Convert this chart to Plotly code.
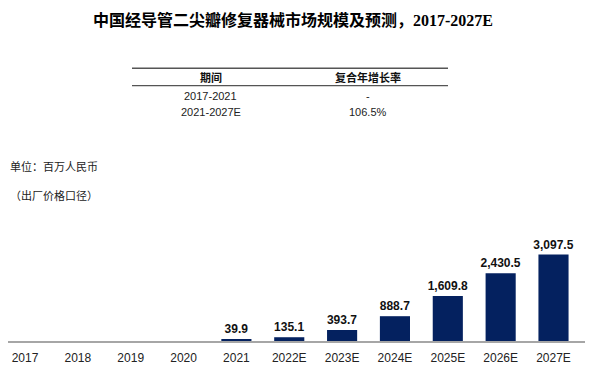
import plotly.graph_objects as go

categories = ["2017", "2018", "2019", "2020", "2021", "2022E", "2023E", "2024E", "2025E", "2026E", "2027E"]
values = [None, None, None, None, 39.9, 135.1, 393.7, 888.7, 1609.8, 2430.5, 3097.5]

title_text = "中国经导管二尖瓣修复器械市场规模及预测，<span style='font-family:Liberation Serif, Times New Roman, serif'>2017-2027E</span>"
table_header = ["期间", "复合年增长率"]
table_periods = ["2017-2021", "2021-2027E"]
table_cagr = ["-", "106.5%"]
unit_lines = ["单位：百万人民币", "（出厂价格口径）"]

OFF = 8  # page body margin
W, H = 591, 359
L, R, T, B = 0, 14, 227, 26
PW, PH = W - L - R, H - T - B

def px(x):
    return (x - OFF - L) / PW

def py(y):
    return (H - B - (y - OFF)) / PH

SANS = "Liberation Sans, Arial, Noto Sans CJK SC, sans-serif"

fig = go.Figure()
fig.add_trace(go.Bar(
    x=categories, y=values,
    marker=dict(color="#04215f", line=dict(width=0)),
    width=0.57,
    text=[None if v is None else f"{v:,.1f}" for v in values],
    textposition="outside",
    constraintext="none",
    textfont=dict(family=SANS, size=12, color="#111111", weight="bold"),
    cliponaxis=False,
))

ann = []
ann.append(dict(text=title_text, x=px(293), y=py(18.5), xref="paper", yref="paper",
                showarrow=False, xanchor="center", yanchor="middle",
                font=dict(family="Noto Sans CJK SC, sans-serif", size=16, color="#000000", weight="bold")))
col_x = [211, 368]
for cx, h in zip(col_x, table_header):
    ann.append(dict(text=h, x=px(cx), y=py(77.7), xref="paper", yref="paper", showarrow=False,
                    xanchor="center", yanchor="middle", font=dict(family=SANS, size=11, color="#111", weight="bold")))
for i, (p, c) in enumerate(zip(table_periods, table_cagr)):
    yy = 95.7 + i * 16
    ann.append(dict(text=p, x=px(col_x[0]), y=py(yy), xref="paper", yref="paper", showarrow=False,
                    xanchor="center", yanchor="middle", font=dict(family=SANS, size=11, color="#222")))
    ann.append(dict(text=c, x=px(col_x[1]), y=py(yy), xref="paper", yref="paper", showarrow=False,
                    xanchor="center", yanchor="middle", font=dict(family=SANS, size=11, color="#222")))
ann.append(dict(text=unit_lines[0], x=px(8), y=py(166.5), xref="paper", yref="paper", showarrow=False,
                xanchor="left", yanchor="middle", font=dict(family=SANS, size=11, color="#222")))
ann.append(dict(text=unit_lines[1], x=px(8), y=py(195), xref="paper", yref="paper", showarrow=False,
                xanchor="left", yanchor="middle", font=dict(family=SANS, size=11, color="#222")))

shapes = []
for yy, w in [(68.3, 1.5), (85.7, 1.2)]:
    shapes.append(dict(type="line", xref="paper", yref="paper", x0=px(132), x1=px(448), y0=py(yy), y1=py(yy),
                       line=dict(color="#555555", width=w)))

cat_w = 52.85
x0 = -(25 - OFF) / cat_w
x1 = x0 + PW / cat_w

fig.update_layout(
    width=W, height=H,
    margin=dict(l=L, r=R, t=T, b=B, pad=0),
    paper_bgcolor="white", plot_bgcolor="white",
    showlegend=False,
    annotations=ann, shapes=shapes,
    xaxis=dict(type="category", range=[x0, x1], showline=True, linecolor="#a6a6a6", linewidth=2,
               ticks="", showgrid=False, zeroline=False, automargin=False, ticklabelstandoff=5,
               tickfont=dict(family=SANS, size=12, color="#222222")),
    yaxis=dict(range=[0, 3799], visible=False, showgrid=False, zeroline=False),
)

fig.write_html("out.html")
